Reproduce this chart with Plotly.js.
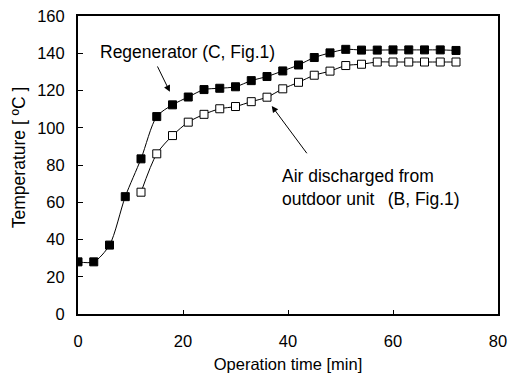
<!DOCTYPE html>
<html>
<head>
<meta charset="utf-8">
<script src="https://cdn.plot.ly/plotly-3.0.1.min.js"></script>
<style>html,body{margin:0;padding:0;background:#fff;}#chart{width:510px;height:379px;}</style>
</head>
<body>
<div id="chart"></div>
<script>
var regenTime = [0,3,6,9,12,15,18,21,24,27,30,33,36,39,42,45,48,51,54,57,60,63,66,69,72];
var regenTemp = [28,28,37,63,83.3,106,112.3,116.5,120.5,121.2,122,125.3,127.5,130.5,133.7,137.7,140.2,142.1,141.7,141.7,141.8,141.8,141.8,141.8,141.5];
var airTime = [12,15,18,21,24,27,30,33,36,39,42,45,48,51,54,57,60,63,66,69,72];
var airTemp = [65.4,86,95.8,103,107.2,110.2,111.4,114,116.4,120.9,124.4,128.2,130.4,133.4,134.1,135.3,135.3,135.3,135.3,135.3,135.3];
var xTicks = [0,20,40,60,80];
var yTicks = [0,20,40,60,80,100,120,140,160];

var FAM = "Liberation Sans, Arial, sans-serif";
var tickFont = {family: FAM, size: 16.5, color: "#000"};
var titleFont = {family: FAM, size: 16.5, color: "#000"};
var yTitleFont = {family: FAM, size: 17.5, color: "#000"};
var noteFont = {family: FAM, size: 17.5, color: "#000"};

var traces = [
  {x: regenTime, y: regenTemp, mode: "lines+markers", type: "scatter",
   line: {color: "#000", width: 1, shape: "spline", smoothing: 0.8},
   marker: {symbol: "square", size: 8, color: "#000", line: {color: "#000", width: 1}}},
  {x: airTime, y: airTemp, mode: "lines+markers", type: "scatter",
   line: {color: "#000", width: 1, shape: "spline", smoothing: 0.8},
   marker: {symbol: "square", size: 8, color: "#fff", line: {color: "#000", width: 1}}}
];

var layout = {
  width: 510, height: 379,
  margin: {l: 78, r: 12, t: 16, b: 65},
  paper_bgcolor: "#fff", plot_bgcolor: "#fff",
  showlegend: false,
  font: tickFont,
  xaxis: {range: [0, 80], tickvals: xTicks, ticktext: xTicks.map(String),
    ticks: "inside", ticklen: 4, tickcolor: "#000", tickwidth: 1,
    showline: true, linecolor: "#000", linewidth: 2, mirror: true,
    showgrid: false, zeroline: false, ticklabelstandoff: 11,
    tickfont: tickFont, title: {text: "Operation time [min]", font: titleFont, standoff: 10}},
  yaxis: {range: [0, 160], tickvals: yTicks, ticktext: yTicks.map(String),
    ticks: "inside", ticklen: 5, tickcolor: "#000", tickwidth: 1,
    showline: true, linecolor: "#000", linewidth: 2, mirror: true,
    showgrid: false, zeroline: false, ticklabelstandoff: 8,
    tickfont: tickFont},
  annotations: [
    {text: "Temperature [ ºC ]", xref: "paper", yref: "paper", x: -0.1408, y: 0.5257,
     textangle: -90, showarrow: false, font: yTitleFont, xanchor: "center", yanchor: "middle"},
    {text: "Regenerator (C, Fig.1)", x: 20.9, y: 140.7, xref: "x", yref: "y",
     showarrow: false, font: noteFont, xanchor: "center", yanchor: "middle"},
    {text: "", x: 17.5, y: 119.3, ax: 15.0, ay: 133.7, axref: "x", ayref: "y",
     xref: "x", yref: "y", showarrow: true, arrowhead: 2, arrowsize: 1.3, arrowwidth: 1, arrowcolor: "#000"},
    {text: "Air discharged from<br>outdoor unit  \u2009(B, Fig.1)", x: 38.5, y: 68, xref: "x", yref: "y",
     showarrow: false, font: noteFont, xanchor: "left", yanchor: "middle", align: "left"},
    {text: "", x: 36.9, y: 111.7, ax: 43.8, ay: 85.5, axref: "x", ayref: "y",
     xref: "x", yref: "y", showarrow: true, arrowhead: 2, arrowsize: 1.3, arrowwidth: 1, arrowcolor: "#000"}
  ]
};

Plotly.newPlot("chart", traces, layout, {staticPlot: true, displayModeBar: false});
</script>
</body>
</html>
